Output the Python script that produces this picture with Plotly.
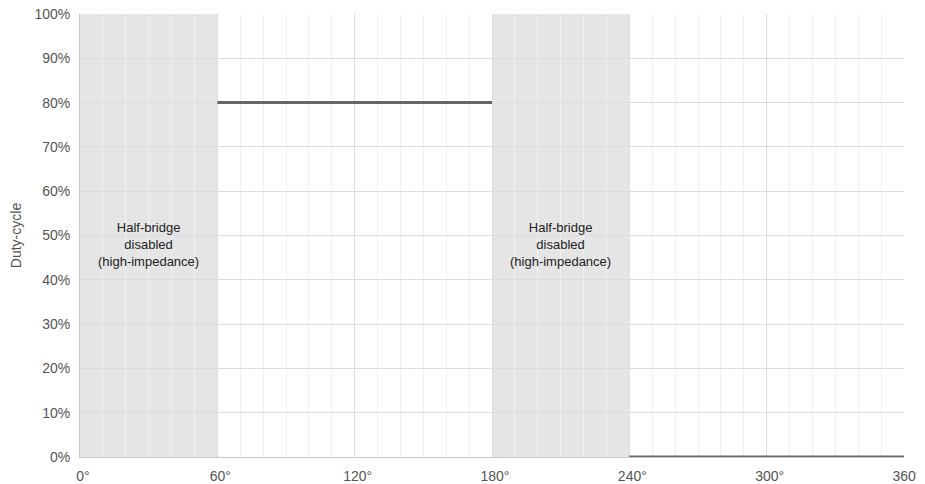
import plotly.graph_objects as go

# Phase segments (electrical degrees) and duty-cycle (%)
seg_start = [60, 240]
seg_end = [180, 360]
seg_duty = [80, 0]

# Disabled (high-impedance) windows
off_start = [0, 180]
off_end = [60, 240]
off_label = "Half-bridge<br>disabled<br>(high-impedance)"

x_ticks = [0, 60, 120, 180, 240, 300, 360]
x_tick_text = [f"{v}°" for v in x_ticks]
y_ticks = [0, 10, 20, 30, 40, 50, 60, 70, 80, 90, 100]
y_tick_text = [f"{v}%" for v in y_ticks]

xs, ys = [], []
for a, b, d in zip(seg_start, seg_end, seg_duty):
    xs += [a, b, None]
    ys += [d, d, None]

fig = go.Figure()
fig.add_trace(go.Scatter(x=xs, y=ys, mode="lines",
                         line=dict(color="#666666", width=3),
                         showlegend=False, hoverinfo="skip", cliponaxis=False))

for a, b in zip(off_start, off_end):
    fig.add_shape(type="rect", x0=a, x1=b, y0=0, y1=100, xref="x", yref="y",
                  fillcolor="#e5e5e5", line_width=0, layer="below")
    fig.add_annotation(x=(a + b) / 2, y=48, text=off_label, showarrow=False,
                       font=dict(size=13, color="#222222"), align="center")

fig.update_xaxes(range=[0, 360], tickmode="array", tickvals=x_ticks, ticktext=x_tick_text,
                 showgrid=True, gridcolor="#dddddd", gridwidth=1,
                 minor=dict(dtick=10, showgrid=True, gridcolor="#f0f0f0", gridwidth=1),
                 showline=True, linecolor="#c8c8c8", linewidth=1, automargin=False,
                 zeroline=False, ticks="", ticklabelshift=3, ticklabelstandoff=6,
                 ticklabeloverflow="allow",
                 tickfont=dict(size=14, color="#555555"))
fig.update_yaxes(range=[0, 100], tickmode="array", tickvals=y_ticks, ticktext=y_tick_text,
                 showgrid=True, gridcolor="#dddddd", gridwidth=1,
                 showline=True, linecolor="#c8c8c8", linewidth=1, automargin=False,
                 zeroline=False, ticks="", ticklabelstandoff=6, ticklabeloverflow="allow",
                 tickfont=dict(size=14, color="#555555"),
                 title=dict(text="Duty-cycle", font=dict(size=14, color="#555555"), standoff=14))

fig.update_layout(width=917, height=476,
                  margin=dict(l=72, r=21, t=6, b=27),
                  plot_bgcolor="white", paper_bgcolor="white",
                  font=dict(family="Arial, Liberation Sans, sans-serif"))

fig.write_html("out.html")
